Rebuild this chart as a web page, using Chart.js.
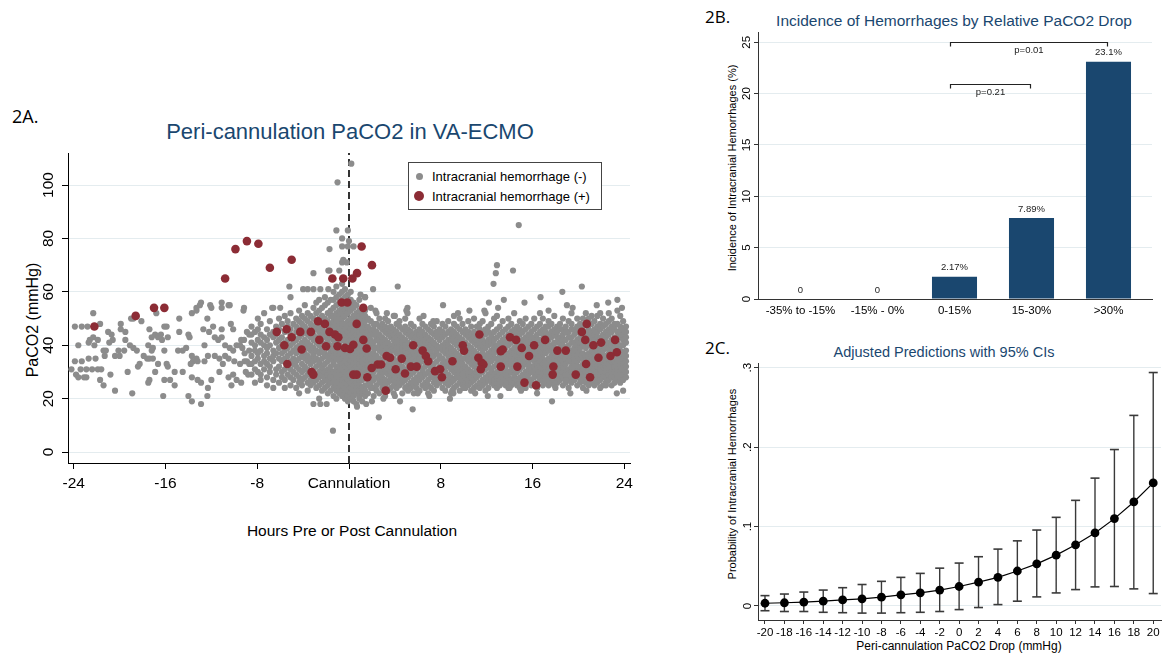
<!DOCTYPE html>
<html><head><meta charset="utf-8">
<script src="https://cdn.jsdelivr.net/npm/chart.js@4.4.1/dist/chart.umd.min.js"></script>
<style>
body{margin:0;background:#fff;width:1168px;height:656px;overflow:hidden;position:relative;font-family:"Liberation Sans",Arial,sans-serif;}
.abs{position:absolute;white-space:nowrap;line-height:1;}
canvas{position:absolute;}
.panel{font-family:"Open Sans",sans-serif;color:#000;transform:translateY(-50%);}
.c{transform:translate(-50%,-50%);}
.r{transform:translate(-50%,-50%) rotate(-90deg);}
.navy{color:#1a476f;}
.dot{position:absolute;border-radius:50%;}
</style></head><body>

<div class="abs panel" style="left:12px;top:116px;font-size:18px;">2A.</div>
<div class="abs panel" style="left:705px;top:16px;font-size:17px;">2B.</div>
<div class="abs panel" style="left:705px;top:347px;font-size:17px;">2C.</div>

<div class="abs c navy" style="left:350px;top:132px;font-size:22px;">Peri-cannulation PaCO2 in VA-ECMO</div>
<div class="abs c navy" style="left:954px;top:21px;font-size:15.5px;">Incidence of Hemorrhages by Relative PaCO2 Drop</div>
<div class="abs c navy" style="left:944px;top:352px;font-size:14.5px;">Adjusted Predictions with 95% CIs</div>

<div class="abs r" style="left:33px;top:320px;font-size:16px;">PaCO2 (mmHg)</div>
<div class="abs c" style="left:352px;top:531px;font-size:15.5px;">Hours Pre or Post Cannulation</div>
<div class="abs r" style="left:732px;top:168px;font-size:11px;">Incidence of Intracranial Hemorrhages (%)</div>
<div class="abs r" style="left:732px;top:484px;font-size:11px;">Probability of Intracranial Hemorrhages</div>
<div class="abs c" style="left:959px;top:646px;font-size:12px;">Peri-cannulation PaCO2 Drop (mmHg)</div>

<canvas id="cA" width="660" height="560" style="left:0;top:0;"></canvas>
<canvas id="cB" width="478" height="325" style="left:690px;top:0;"></canvas>
<canvas id="cC" width="478" height="326" style="left:690px;top:330px;"></canvas>

<div class="abs" style="left:408px;top:162px;width:194px;height:48px;border:1px solid #444;box-sizing:border-box;background:#fff;">
  <div class="dot" style="left:7px;top:10px;width:7px;height:7px;background:#8c8c8c;"></div>
  <div class="abs" style="left:23px;top:7px;font-size:13px;">Intracranial hemorrhage (-)</div>
  <div class="dot" style="left:5px;top:28px;width:10px;height:10px;background:#8c2c35;"></div>
  <div class="abs" style="left:23px;top:27px;font-size:13px;">Intracranial hemorrhage (+)</div>
</div>

<script>
// ---------- 2A data ----------
const hoursTicks = [-24, -16, -8, 0, 8, 16, 24];
const hoursTickLabels = ['-24', '-16', '-8', 'Cannulation', '8', '16', '24'];
const hoursRange = [-24.5, 24.5];
const paco2Ticks = [0, 20, 40, 60, 80, 100];
const paco2Range = [-4.1, 112];
const cannulationHour = 0;

const redPoints = [
[-22.2,47],[-18.6,51],[-17.0,54],[-16.1,54],[-10.8,65],[-9.9,76],[-8.9,79],[-7.9,78],[-6.9,69],[-5.0,72],
[-1.45,65],[-0.5,65],[0.3,65],[0.7,67],[1.1,77],[2.0,70],[-0.64,56],[-0.14,56],[1.25,54],[0.67,48],
[-2.7,49],[-2.1,48],[-6.3,45],[-5.44,46],[-4.25,45],[-3.33,45],[-1.7,45],[-1.22,44],[-0.93,43],[-5.0,43],[-5.64,40],
[-2.59,42],[-2.0,39.6],[-1.0,39.6],[-0.35,39],[0.38,40.2],[0.09,38.6],[-4.13,38.4],[1.25,42],[1.54,38.8],
[-5.38,33],[-3.26,30],[-3.11,29],[0.38,29],[0.67,29],[1.6,28],[1.98,31.5],[2.5,32.8],[2.8,32.8],[3.28,36],[3.58,35.3],[3.2,23],
[4.07,31],[4.6,35],[4.88,29.4],[5.4,32],[5.9,32],[5.6,40],[6.42,38],[6.7,36],[6.9,34],[7.5,30.3],[7.95,31],[8.1,28],
[11.37,44],[9.92,40],[10.03,38],[9.02,34],[11.28,35.3],[11.57,33.4],[11.72,32.8],[11.49,31],[13.23,37.8],[13.4,38.4],[13.23,32],
[14.04,43],[14.57,42],[15.06,39],[14.68,32],[15.7,36],[16.14,40],[17.1,42],[15.3,26],[16.31,25],[17.82,32],[17.76,29],
[18.17,38],[18.9,38],[19.77,29],[20.73,48],[20.3,45],[20.6,42],[21.31,40],[21.98,41],[20.67,33],[21.02,28],[21.75,35.3],
[23.2,42],[23.35,37.4],[22.8,36]
];

const grayEarly = [
[-24.2,31],[-23.9,34],[-23.8,29],[-23.6,28],[-23.9,47],[-23.6,40],
[-22.3,52],[-23.3,47],[-22.8,47],[-21.7,48],[-22.6,42],[-22.3,43],[-21.9,42],[-22.7,41],[-22.2,40],[-21.0,45],[-20.7,44],
[-20.6,42],[-20.9,41],[-21.4,38],[-21.2,38],[-21.3,36],[-23.3,34],[-22.7,35],[-22.1,35],[-23.4,31],[-22.9,31],[-22.4,31],
[-21.9,31],[-21.6,31],[-23.1,28],[-22.9,28],[-21.7,27],[-20.8,29],[-21.4,25],[-20.4,23],[-19.9,48],[-19.9,46],[-19.5,45],
[-20.1,38],[-20.4,36],[-20.0,36],[-19.0,50],[-18.1,49],[-18.8,50],[-19.5,42],[-19.1,40],[-18.8,39],[-18.5,38],[-19.6,38],
[-19.3,30],[-18.4,32],[-18.25,33],[-18.9,22],[-17.4,46],[-17.2,43],[-16.9,44],[-16.65,43],[-16.3,42],[-17.5,40],[-17.1,39],
[-17.2,38],[-17.9,36],[-17.6,35],[-17.4,35],[-17.1,35],[-16.9,30],[-16.65,33],[-17.4,27],[-17.5,26],[-16.8,52],[-16.1,47],
[-15.9,47],[-16.1,38],[-15.9,33],[-15.8,32],[-16.1,27],[-15.6,27],[-15.2,25],[-16.2,21],[-15.8,43],[-16.4,44],[-14.8,50],
[-14.8,45],[-14.9,38],[-14.5,38],[-15.2,30],[-14.5,30],[-13.7,52],[-13.3,53],[-12.9,56],[-14.0,44],[-13.9,43],[-14.2,39],
[-13.7,36],[-13.3,35],[-13.6,34],[-13.2,34],[-12.6,34],[-13.8,33],[-13.7,28],[-13.2,27],[-12.9,26],[-14.0,21],[-13.7,19],
[-12.9,18],[-12.35,50],[-12.0,54],[-12.7,46],[-12.2,45],[-12.6,40],[-11.85,47],[-11.7,43],[-11.4,42],[-11.1,43],[-12.3,36],
[-11.7,36],[-11.3,35],[-10.8,36],[-12.0,27],[-12.35,21],[-12.3,24],[-11.1,56],[-10.4,55],[-9.15,54],[-11.1,46],[-10.3,48],
[-10.1,46],[-10.8,40],[-10.4,39],[-10.1,38],[-9.8,40],[-9.5,40],[-9.4,42],[-9.15,42],[-8.7,44],[-8.9,45],[-11.0,33],
[-10.5,35],[-10.0,34],[-9.5,33],[-9.1,34],[-8.7,33],[-8.9,34],[-11.3,30],[-10.5,28],[-10.1,29],[-9.8,27],[-9.4,26],
[-8.8,29],[-9.0,30],[-10.25,25],[-9.1,37],[-8.7,38],[-9.3,39],[-13.0,55],[-13.3,54],[-12.1,55],[-11.1,54],[-10.5,55],[-9.2,53]
];

const grayColHours = [
-8.5,-8.2,-7.95,-7.7,-7.4,-7.15,-6.9,-6.6,-6.35,-6.1,-5.85,-5.6,-5.35,-5.1,-4.85,
-4.6,-4.35,-4.1,-3.85,-3.6,-3.35,-3.1,-2.85,-2.6,-2.35,-2.1,-1.85,-1.6,
-1.35,-1.1,-0.85,-0.6,-0.35,-0.1,0.15,0.4,0.65,0.9,1.15,1.4,
1.65,1.9,2.15,2.4,2.65,2.9,3.15,3.4,3.65,3.9,4.15,4.4,4.65,4.9,5.15,5.4,5.65,5.9,6.15,6.4,6.65,6.9,7.15,7.4,7.65,7.9,
8.15,8.4,8.65,8.9,9.15,9.4,9.65,9.9,10.15,10.4,10.65,10.9,11.15,11.4,11.65,11.9,12.15,12.4,12.65,12.9,13.15,13.4,13.65,13.9,
14.15,14.4,14.65,14.9,15.15,15.4,15.65,15.9,
16.15,16.4,16.65,16.9,17.15,17.4,17.65,17.9,18.15,18.4,18.65,18.9,19.15,19.4,19.65,19.9,20.15,20.4,20.65,20.9,
21.15,21.4,21.65,21.9,22.15,22.4,22.65,22.9,23.15,23.4,23.65,23.9,24.15
];
const grayColValues = [
[29,33,36,41,44,47],[26,31,34,38,40,45],[30,35,37,42,46,50],[27,29,33,38,41,44,48],[31,34,36,40,43,52],
[25,28,33,37,39,42,46],[30,32,35,40,44,49],[24,27,34,36,38,43,45,54],[29,31,37,41,44,47],[26,32,35,39,42,46,50],
[28,30,34,37,40,43,48],[24,27,31,35,38,41,45,51],[29,33,36,39,42,47,49],[25,28,31,34,37,40,44,46,52],[27,30,33,35,38,41,43,48],
[24,29,32,34,37,39,42,45,47,50],[22,26,28,31,35,38,40,43,46,49,53],[25,27,30,33,36,38,41,44,46,48,51],
[28,31,32,35,37,40,42,45,47,50,55],[23,26,29,31,34,36,39,41,44,46,49,52],[25,27,30,33,35,38,40,43,45,48,51],
[26,28,31,34,36,37,39,42,44,47,50,54],[24,27,29,32,35,38,41,43,46,48,52,56],[25,28,30,33,34,37,40,42,45,47,50,53,57],
[23,26,29,31,32,35,38,39,41,44,46,49,51,54],[24,27,28,30,33,36,37,40,43,45,48,50,55,58],
[22,25,27,29,31,34,36,39,41,42,44,47,49,52,56],[23,26,28,30,32,35,37,38,40,43,45,46,48,51,53,57],
[21,24,26,28,30,33,34,36,38,40,42,44,47,49,51,54,57,60],[20,23,25,27,29,31,32,35,37,39,41,43,45,46,48,50,52,55,58,62],
[22,24,26,28,30,32,34,36,38,40,41,43,45,47,49,51,53,56,59],[21,23,25,27,29,31,33,35,37,39,42,44,46,48,50,52,54,57,60,63],
[20,22,24,26,28,30,32,34,36,38,40,42,44,46,48,51,53,55,58,61],[19,21,23,25,27,29,31,33,35,37,39,41,43,45,47,49,52,54,56,59],
[20,22,24,26,28,30,32,34,36,38,40,42,44,46,48,50,53,55,57,60],[19,21,23,25,27,29,31,33,35,37,39,41,43,45,47,49,51,54,56],
[18,22,24,26,28,30,32,34,36,38,40,42,44,46,48,50,52,55],[20,21,23,25,27,29,31,33,35,37,39,41,43,45,47,49,51,53,57],
[19,22,24,27,29,30,32,34,36,38,40,42,44,46,48,50,52],[21,23,25,28,31,33,35,37,39,41,43,45,47,49,51,53,58],
[22,25,27,30,32,34,36,38,41,43,45,47,50],[24,26,29,31,33,35,37,40,42,44,46,49,54],[21,24,27,28,30,33,35,37,39,41,44,46,48],
[23,25,28,31,32,34,36,39,42,43,45,48,52],[22,26,27,29,31,33,35,38,40,42,44,47,50],[24,26,28,30,33,34,37,39,41,43,46,48],
[21,25,27,30,32,35,36,38,40,42,45,47,50],[23,26,29,31,33,35,37,39,41,44,46,49],[24,27,28,30,32,34,36,38,40,43,45,47],
[22,25,27,29,31,33,35,38,40,42,44,46,51],[24,26,28,30,32,34,37,39,41,43,45,48],[25,27,29,31,33,36,38,40,42,44,47,49],
[22,26,28,30,32,35,37,39,41,43,46],[24,27,29,31,34,36,38,40,42,45,47,50],[23,25,28,30,33,35,37,39,41,44,46],
[24,26,29,31,32,34,36,38,40,43,45,48],[22,25,27,30,33,35,37,39,42,44,47],[24,26,28,31,34,36,38,41,43,45],
[23,27,29,32,33,35,37,40,42,44,46,50],[25,28,30,31,34,36,39,41,43,45,48],[24,26,29,32,35,37,38,40,42,44,47],
[22,25,27,30,33,34,36,39,41,43,46],[24,28,29,31,32,35,37,38,40,42,45,48],[23,26,28,30,33,36,39,41,44,47],
[25,27,29,31,34,37,38,40,43,45,49],[26,28,30,32,35,36,39,42,44,46],
[24,27,29,31,33,35,38,40,43,45,48],[23,26,28,30,32,34,37,39,41,44,47],[25,27,29,32,34,36,38,40,42,45,49],
[22,26,28,31,33,35,37,39,42,44,46],[24,27,30,32,34,36,38,41,43,45,48,51],[25,28,29,31,33,35,37,40,42,44,47],
[23,26,28,30,32,34,36,39,41,43,46,50],[25,27,29,31,33,35,38,40,42,45,48],[24,26,28,30,32,35,37,39,41,44,46],
[25,27,29,31,34,36,38,40,43,45,49],[23,26,28,30,33,35,37,39,42,44,47],[24,27,29,32,34,36,38,41,43,45,50],
[25,28,30,31,33,35,37,40,42,44,47],[24,26,29,32,34,36,39,41,43,46,48],[25,27,30,33,35,37,38,40,42,45,49],
[23,26,28,31,34,36,39,41,44,46,52],[24,27,29,32,33,35,37,40,42,45,47],[26,28,30,31,34,36,38,41,43,44,48],
[25,27,29,32,35,37,39,40,42,45,50],[24,26,28,30,33,35,38,40,43,46,51],[25,27,29,31,34,36,37,39,41,44,47],
[26,28,30,33,35,38,40,42,45,49],[25,27,29,31,32,34,36,39,41,43,46],[24,26,28,30,33,35,37,40,42,44,47,50],
[25,27,30,32,34,36,38,41,43,45,48],[26,28,29,31,33,35,37,39,42,44,46,52],[25,27,30,32,34,36,38,40,43,45,47],
[24,26,28,31,33,35,37,39,41,44,46,49],[25,27,29,32,34,36,38,40,42,45,48],[24,26,28,30,33,35,37,39,41,43,46,50],
[27,29,31,33,34,36,38,40,42,44,47],[25,27,30,32,35,37,39,41,43,45,48],
[25,28,30,32,34,36,38,41,43,46,50],[24,26,29,31,33,35,37,39,42,44,47],[27,28,30,32,34,36,38,40,42,45,48,52],
[25,27,29,31,33,35,37,39,41,44,46,50],[26,28,30,32,34,37,39,41,43,45,47],[25,27,29,31,33,35,38,40,42,44,47,49],
[26,28,30,32,34,36,38,40,43,45,48],[25,27,29,31,33,35,37,39,41,44,46,51],[26,28,30,32,34,36,38,41,43,45,47],
[27,29,31,33,35,37,39,41,43,46,48],[25,28,30,32,34,36,38,40,42,44,46,50],[26,27,29,31,33,35,37,39,42,45,47],
[24,27,29,31,34,36,38,40,43,45,49],[26,28,30,32,34,36,38,41,43,46,48,52],[27,29,31,33,35,37,39,41,44,46],
[25,28,30,32,34,36,38,40,42,45,47,50],[26,28,30,32,35,37,39,41,43,46,48],[24,27,29,31,33,35,37,40,42,44,47,50],
[26,28,30,32,34,36,39,41,43,45,48,52],[25,27,29,31,33,35,37,40,42,44,46,50],
[26,28,30,32,34,36,38,41,43,45,48,51],[25,27,29,31,33,35,37,39,42,44,46,49],[26,28,30,32,34,36,38,40,43,45,47,51],
[27,29,31,33,35,37,39,41,43,46,48,52],[25,28,30,32,34,36,38,40,42,44,47,50],[26,28,30,32,34,36,39,41,43,45,48],
[27,29,31,33,35,37,39,41,44,46,49,52],[25,28,30,32,34,36,38,40,42,45,47,50],[26,28,30,32,34,37,39,41,43,46,48],
[27,29,31,33,35,37,39,41,43,45,48,53],[26,28,30,32,34,36,38,40,43,45,47,51],[27,29,31,33,35,37,40,42,44,46,49],
[28,30,32,34,36,38,41,43,45,47]
];

const grayOutliers = [
[0.2,108],[-1.0,101],[-1.1,83],[-0.1,83],[-0.6,80],[0.0,79],[-1.7,76],[-0.6,77],[-0.1,77],[0.4,77],[-3.1,67],[-1.7,68],
[-0.85,68],[-0.6,71],[-0.2,71],[-0.5,72],[-1.8,68],[-5.2,62],[-5.1,58],[-4.0,61],[-3.6,61],[-3.1,61],[-2.5,61],[-1.8,61],
[2.1,61],[4.25,62],[1.0,59],[1.4,58],[14.8,85],[12.9,70],[12.8,67],[12.6,63],[14.3,68],[12.2,56],[13.5,57],[15.3,56],
[16.7,58],[8.2,55],[5.1,54],[5.1,52],[18.6,60],[20.3,62],[23.4,57],[19.5,54],[-1.4,8],[2.6,13],[5.55,16],[4.45,19],
[-3.1,18],[-2.5,18],[-1.95,18],[-2.6,20],[1.5,18],[0.7,17],[8.8,20],[9.1,22],[12.1,21],[13.2,21],[16.4,22],[17.7,19],
[20.7,23],[23.35,22],[-6.7,54],[-6.0,54],[2.3,53],[3.3,52],[4.0,51],[5.0,53],[6.5,51],[7.35,49],
[9.5,52],[10.5,53],[11.8,53],[13.0,54],[17.4,53],[19.0,55],[21.6,55],[22.6,56],[23.8,54],[9.0,23],[10.0,24],[11.0,22],
[14.0,24],[15.0,23],[18.0,24],[19.3,22],[21.9,24],[22.4,25],[23.9,23],[6.0,22],[7.0,21],[3.0,20],[4.0,21],[2.0,19]
];

// ---------- 2B data ----------
const dropCategories = ['-35% to -15%', '-15% - 0%', '0-15%', '15-30%', '>30%'];
const incidence = [0, 0, 2.17, 7.89, 23.1];
const incidenceLabels = ['0', '0', '2.17%', '7.89%', '23.1%'];
const incidenceTicks = [0, 5, 10, 15, 20, 25];
const bracketFrom = [2, 2];
const bracketTo = [3, 4];
const bracketLevel = [20.9, 25];
const bracketLabels = ['p=0.21', 'p=0.01'];

// ---------- 2C data ----------
const drop = [-20,-18,-16,-14,-12,-10,-8,-6,-4,-2,0,2,4,6,8,10,12,14,16,18,20];
const prob = [.0034,.004,.0048,.006,.0076,.009,.011,.014,.0165,.020,.0245,.030,.036,.044,.053,.064,.077,.092,.110,.131,.155];
const ciHigh = [.013,.015,.0175,.020,.023,.027,.031,.036,.041,.0476,.054,.062,.0716,.082,.0956,.1116,.133,.161,.197,.240,.294];
const ciLow = [-.006,-.007,-.007,-.008,-.0085,-.009,-.009,-.0085,-.008,-.007,-.0046,-.002,.0017,.006,.0114,.0164,.0206,.024,.0245,.0215,.0156];
const probTicks = [0, 0.1, 0.2, 0.3];
const probTickLabels = ['0', '.1', '.2', '.3'];

Chart.defaults.font.family = '"Liberation Sans", Arial, sans-serif';
Chart.defaults.color = '#000';

const GRID = '#e4ecef';
const AXIS = '#000';

// ---------- Chart 2A ----------
const grayData = [];
grayEarly.forEach(([x, y]) => grayData.push({x, y}));
grayColHours.forEach((h, i) => grayColValues[i].forEach(v => grayData.push({x: h, y: v})));
grayOutliers.forEach(([x, y]) => grayData.push({x, y}));

new Chart(document.getElementById('cA'), {
  type: 'scatter',
  data: {datasets: [
    {label: 'Intracranial hemorrhage (+)', data: redPoints.map(([x, y]) => ({x, y})), pointRadius: 4.3,
     pointBackgroundColor: '#8c2c35', pointBorderColor: '#8c2c35', pointBorderWidth: 0, order: 0},
    {label: 'Intracranial hemorrhage (-)', data: grayData, pointRadius: 3.1,
     pointBackgroundColor: '#8c8c8c', pointBorderColor: '#8c8c8c', pointBorderWidth: 0, order: 1},
    {label: 'Cannulation', type: 'line', data: [{x: cannulationHour, y: paco2Range[0]}, {x: cannulationHour, y: paco2Range[1]}],
     borderColor: '#000', borderWidth: 1.6, borderDash: [7, 4], pointRadius: 0, order: 2}
  ]},
  options: {
    responsive: false, animation: false, devicePixelRatio: 1,
    layout: {padding: {left: 20, right: 30, top: 153, bottom: 57}},
    plugins: {legend: {display: false}, tooltip: {enabled: false}},
    scales: {
      x: {type: 'linear', min: hoursRange[0], max: hoursRange[1],
          afterBuildTicks: s => { s.ticks = hoursTicks.map(v => ({value: v})); },
          afterFit: s => { s.height = 40; },
          grid: {drawOnChartArea: false, drawTicks: true, tickLength: 6, tickColor: AXIS},
          border: {color: AXIS, width: 1},
          ticks: {font: {size: 15.5}, color: '#000', padding: 5, maxRotation: 0, autoSkip: false,
                  callback: v => hoursTickLabels[hoursTicks.indexOf(v)]}},
      y: {type: 'linear', min: paco2Range[0], max: paco2Range[1],
          afterBuildTicks: s => { s.ticks = paco2Ticks.map(v => ({value: v})); },
          afterFit: s => { s.width = 48; },
          grid: {color: GRID, lineWidth: 1, tickLength: 6, tickColor: AXIS},
          border: {color: AXIS, width: 1},
          ticks: {font: {size: 15.5}, color: '#000', padding: 0, minRotation: 90, maxRotation: 90, crossAlign: 'center'}}
    }
  }
});

// ---------- Chart 2B ----------
const barAnnotations = {
  id: 'barAnnotations',
  afterDatasetsDraw(chart) {
    const {ctx, scales: {x, y}} = chart;
    const meta = chart.getDatasetMeta(0);
    ctx.save();
    ctx.fillStyle = '#222';
    ctx.font = '9.5px "Liberation Sans", Arial, sans-serif';
    ctx.textAlign = 'center';
    ctx.textBaseline = 'middle';
    meta.data.forEach((bar, i) => ctx.fillText(incidenceLabels[i], bar.x, bar.y - 9));
    ctx.strokeStyle = '#222';
    ctx.lineWidth = 1.2;
    bracketLabels.forEach((lab, i) => {
      const x1 = x.getPixelForValue(bracketFrom[i]) - 4;
      const x2 = x.getPixelForValue(bracketTo[i]) - 1;
      const yy = Math.round(y.getPixelForValue(bracketLevel[i])) + 0.5;
      ctx.beginPath();
      ctx.moveTo(x1, yy + 4); ctx.lineTo(x1, yy); ctx.lineTo(x2, yy); ctx.lineTo(x2, yy + 4);
      ctx.stroke();
      ctx.fillText(lab, (x1 + x2) / 2, yy + 7.5);
    });
    ctx.restore();
  }
};

new Chart(document.getElementById('cB'), {
  type: 'bar',
  data: {datasets: [{
    label: 'Incidence', data: incidence.map((v, i) => ({x: i, y: v})),
    backgroundColor: '#1a476f', borderColor: '#1a476f', borderWidth: 0,
    barPercentage: 0.585, categoryPercentage: 1
  }]},
  options: {
    responsive: false, animation: false, devicePixelRatio: 1,
    layout: {padding: {left: 38, right: 16, top: 32, bottom: 1}},
    plugins: {legend: {display: false}, tooltip: {enabled: false}},
    scales: {
      x: {type: 'linear', min: -0.552, max: 4.565, offset: false,
          afterBuildTicks: s => { s.ticks = dropCategories.map((c, i) => ({value: i})); },
          afterFit: s => { s.height = 25; },
          grid: {display: false, drawTicks: false},
          border: {color: '#333', width: 1},
          ticks: {font: {size: 11.5}, color: '#000', padding: 5, maxRotation: 0, autoSkip: false,
                  callback: v => dropCategories[v]}},
      y: {type: 'linear', min: 0, max: 26,
          afterBuildTicks: s => { s.ticks = incidenceTicks.map(v => ({value: v})); },
          afterFit: s => { s.width = 30; },
          grid: {color: GRID, lineWidth: 1, tickLength: 4, tickColor: '#333'},
          border: {color: '#333', width: 1},
          ticks: {font: {size: 11.5}, color: '#000', padding: 1, minRotation: 90, maxRotation: 90, crossAlign: 'center'}}
    }
  },
  plugins: [barAnnotations]
});

// ---------- Chart 2C ----------
const whiskerData = [];
drop.forEach((d, i) => { whiskerData.push({x: d, y: ciLow[i]}, {x: d, y: ciHigh[i]}, {x: d, y: null}); });
const capData = [];
drop.forEach((d, i) => { capData.push({x: d, y: ciLow[i]}, {x: d, y: ciHigh[i]}); });

new Chart(document.getElementById('cC'), {
  type: 'scatter',
  data: {datasets: [
    {label: 'Prediction', type: 'line', data: drop.map((d, i) => ({x: d, y: prob[i]})),
     borderColor: '#000', borderWidth: 1.2, pointRadius: 4.4, pointBackgroundColor: '#000', pointBorderColor: '#000',
     pointBorderWidth: 0, tension: 0, order: 0},
    {label: 'CI', type: 'line', data: whiskerData, spanGaps: false, borderColor: '#3a3a3a', borderWidth: 1.4,
     pointRadius: 0, order: 1},
    {label: 'CI caps', data: capData, pointStyle: 'line', pointRadius: 4.5, borderColor: '#3a3a3a',
     pointBorderColor: '#3a3a3a', pointBorderWidth: 1.6, order: 2}
  ]},
  options: {
    responsive: false, animation: false, devicePixelRatio: 1,
    layout: {padding: {left: 38, right: 7, top: 33, bottom: 16}},
    plugins: {legend: {display: false}, tooltip: {enabled: false}},
    scales: {
      x: {type: 'linear', min: -20.72, max: 20.8,
          afterBuildTicks: s => { s.ticks = drop.map(v => ({value: v})); },
          afterFit: s => { s.height = 20; },
          grid: {drawOnChartArea: false, drawTicks: true, tickLength: 4, tickColor: '#333'},
          border: {color: '#333', width: 1},
          ticks: {font: {size: 11.5}, color: '#000', padding: 2, maxRotation: 0, autoSkip: false}},
      y: {type: 'linear', min: -0.0177, max: 0.306,
          afterBuildTicks: s => { s.ticks = probTicks.map(v => ({value: v})); },
          afterFit: s => { s.width = 30; },
          grid: {color: GRID, lineWidth: 1, tickLength: 4, tickColor: '#333'},
          border: {color: '#333', width: 1},
          ticks: {font: {size: 11.5}, color: '#000', padding: 1, minRotation: 90, maxRotation: 90, crossAlign: 'center',
                  callback: v => probTickLabels[probTicks.indexOf(v)]}}
    }
  }
});
</script>
</body></html>
